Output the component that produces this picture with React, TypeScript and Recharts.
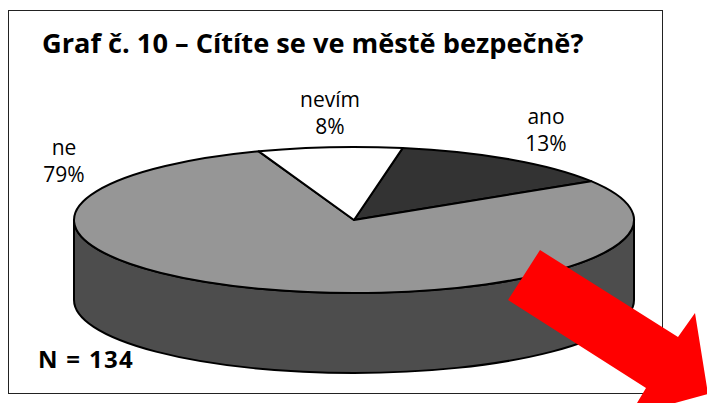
import { Pie, PieChart } from "recharts";

const categories = ["ano", "ne", "nevím"];
// slice sizes as measured on the drawn disc, printed labels are rounded
const shares = [13.3, 78.4, 8.3];
const printedLabels = ["13%", "79%", "8%"];
const colors = ["#333333", "#969696", "#ffffff"];
const chartData = categories.map((name, i) => ({ name, value: shares[i], fill: colors[i], printed: printedLabels[i] }));

const sampleSize = 134;
const title = "Graf č. 10 – Cítíte se ve městě bezpečně?";

const W = 707;
const H = 403;
const CX = 354;
const CY = 220;
const RX = 280;
const RY = 73;
const DEPTH = 80;
const WALL = "#4d4d4d";
const FONT = "'Open Sans', 'DejaVu Sans', sans-serif";

// where Excel happened to put the labels (baseline of first line)
const labelPos = [
  { x: 546, y: 124 },
  { x: 64, y: 155 },
  { x: 330, y: 107 },
];

const pt = (deg: number, dy = 0) => {
  const a = (deg * Math.PI) / 180;
  return [CX + RX * Math.cos(a), CY + dy - RY * Math.sin(a)];
};

function TopSlice(props: any) {
  const { startAngle, endAngle, fill } = props;
  const [x1, y1] = pt(startAngle);
  const [x2, y2] = pt(endAngle);
  const large = Math.abs(startAngle - endAngle) > 180 ? 1 : 0;
  const d = `M${CX},${CY} L${x1},${y1} A${RX},${RY} 0 ${large} 1 ${x2},${y2} Z`;
  return <path d={d} fill={fill} stroke="#000" strokeWidth={2} strokeLinejoin="round" />;
}

// side of the disc: only the part of a slice that lies on the front half
function WallSlice(props: any) {
  const { startAngle, endAngle } = props;
  const from = Math.min(startAngle, 0);
  const to = Math.max(endAngle, -180);
  if (from <= to) return <g />;
  const [x1, y1] = pt(from);
  const [x2, y2] = pt(to);
  const [x3, y3] = pt(to, DEPTH);
  const [x4, y4] = pt(from, DEPTH);
  const d = `M${x1},${y1} A${RX},${RY} 0 0 1 ${x2},${y2} L${x3},${y3} A${RX},${RY} 0 0 0 ${x4},${y4} Z`;
  return <path d={d} fill={WALL} stroke="#000" strokeWidth={2} strokeLinejoin="round" />;
}

function SliceLabel(props: any) {
  const { index } = props;
  const p = labelPos[index];
  return (
    <text x={p.x} y={p.y} textAnchor="middle" fontFamily={FONT} fontSize={21} fill="#000">
      <tspan x={p.x} dy={0}>{categories[index]}</tspan>
      <tspan x={p.x} dy={27}>{printedLabels[index]}</tspan>
    </text>
  );
}

export default function App() {
  return (
    <div style={{ position: "absolute", left: 0, top: 0, width: W, height: H, overflow: "hidden", background: "#fff" }}>
      <div style={{ position: "absolute", left: 8, top: 10, width: 653, height: 382, border: "1px solid #222" }} />
      <PieChart width={W} height={H} margin={{ top: 0, right: 0, bottom: 0, left: 0 }} style={{ position: "absolute", left: 0, top: 0 }}>
        <Pie
          data={chartData}
          dataKey="value"
          nameKey="name"
          cx={CX}
          cy={CY}
          outerRadius={RX}
          startAngle={80}
          endAngle={-280}
          isAnimationActive={false}
          stroke="none"
          shape={WallSlice}
        />
        <Pie
          data={chartData}
          dataKey="value"
          nameKey="name"
          cx={CX}
          cy={CY}
          outerRadius={RX}
          startAngle={80}
          endAngle={-280}
          isAnimationActive={false}
          stroke="none"
          shape={TopSlice}
          label={SliceLabel}
          labelLine={false}
        />
        <text x={42} y={53} fontFamily={FONT} fontWeight={700} fontSize={27.2} fill="#000">{title}</text>
        <text x={38} y={368} fontFamily={FONT} fontWeight={700} fontSize={24} letterSpacing={1.3} fill="#000">N = {sampleSize}</text>
      </PieChart>
      {/* hand-drawn red arrow sitting on top of the chart */}
      <svg width={W} height={H} style={{ position: "absolute", left: 0, top: 0 }}>
        <polygon points="540,250 678,337 695,313 708,394 675,403 637,403 646,388 508,300" fill="#ff0000" />
      </svg>
    </div>
  );
}
